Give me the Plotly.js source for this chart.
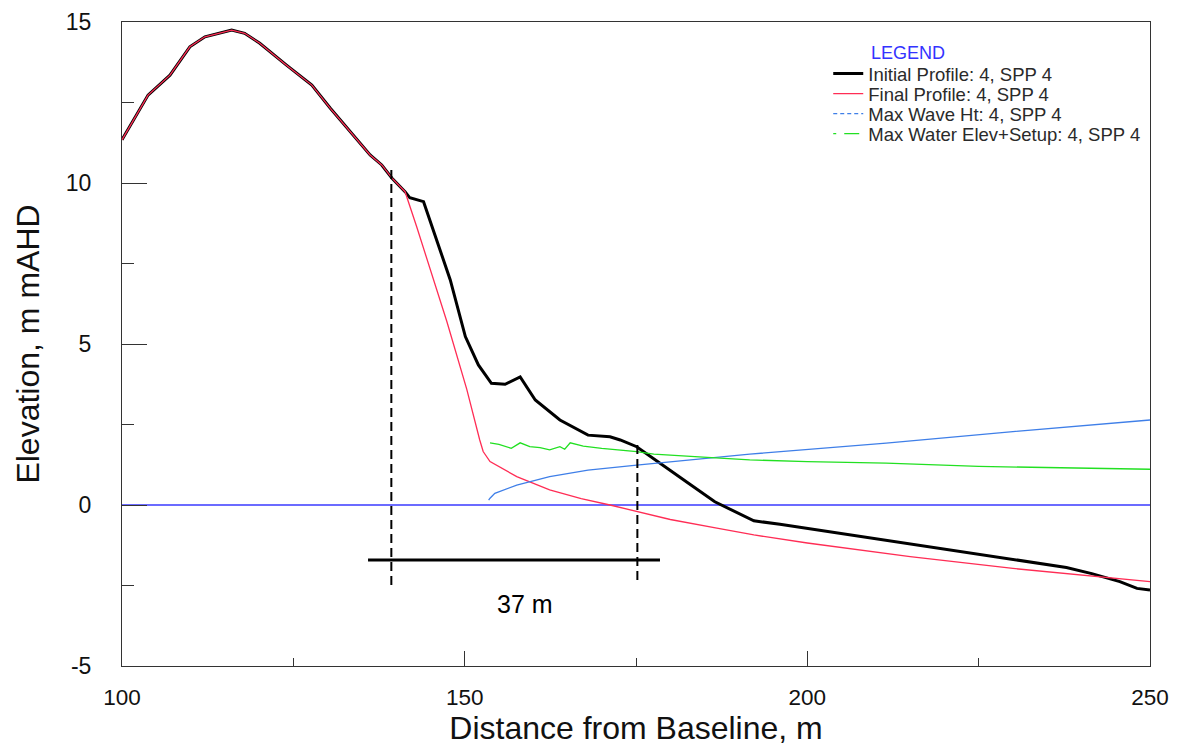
<!DOCTYPE html>
<html>
<head>
<meta charset="utf-8">
<script src="https://cdn.plot.ly/plotly-3.0.1.min.js"></script>
<style>
  html, body { margin: 0; padding: 0; background: #fff; }
  #chart { width: 1181px; height: 747px; }
</style>
</head>
<body>
<div id="chart"></div>
<script>
// ---- Data ----
const initialX = [100, 103.8, 107.0, 109.9, 112.1, 116.0, 117.9, 120.1, 124.0, 127.7, 130.4, 133.3, 136.2, 137.9, 139.4, 141.3, 142.0, 144.0, 145.9, 147.9, 150.1, 152.0, 153.9, 155.9, 158.1, 160.3, 163.9, 168.0, 171.2, 172.7, 175.1, 178.5, 182.5, 186.5, 192.2, 196.0, 210, 225, 237.8, 241.5, 245.6, 248.1, 250];
const initialY = [11.34, 12.73, 13.35, 14.23, 14.54, 14.75, 14.65, 14.34, 13.66, 13.04, 12.32, 11.59, 10.87, 10.56, 10.15, 9.73, 9.54, 9.42, 8.23, 6.99, 5.23, 4.35, 3.78, 3.75, 3.98, 3.26, 2.64, 2.17, 2.12, 2.02, 1.81, 1.29, 0.70, 0.10, -0.49, -0.60, -1.05, -1.53, -1.94, -2.13, -2.38, -2.59, -2.64];

const finalX = [100, 103.8, 107.0, 109.9, 112.1, 116.0, 117.9, 120.1, 124.0, 127.7, 130.4, 133.3, 136.2, 137.9, 139.4, 141.3, 143.0, 147.4, 150.3, 152.2, 152.7, 153.7, 157.6, 162.4, 167.0, 171.2, 175.1, 180.0, 186.8, 192.2, 200, 215, 230, 244.7, 250];
const finalY = [11.34, 12.73, 13.35, 14.23, 14.54, 14.75, 14.65, 14.34, 13.66, 13.04, 12.32, 11.59, 10.87, 10.56, 10.15, 9.73, 8.64, 5.7, 3.6, 2.02, 1.66, 1.35, 0.88, 0.47, 0.20, 0.00, -0.21, -0.45, -0.72, -0.93, -1.18, -1.60, -1.97, -2.28, -2.38];

const waveX = [153.5, 153.7, 154.4, 157.6, 162.4, 168.0, 175.1, 191.6, 211.5, 230, 250];
const waveY = [0.15, 0.21, 0.36, 0.62, 0.88, 1.08, 1.24, 1.58, 1.92, 2.28, 2.64];

const setupX = [153.7, 155.0, 156.8, 158.1, 159.5, 161.0, 162.4, 163.9, 164.6, 165.4, 167.3, 170.0, 175.1, 177.6, 185.4, 191.6, 200, 211.5, 225, 237, 250];
const setupY = [1.93, 1.88, 1.76, 1.93, 1.81, 1.78, 1.71, 1.81, 1.73, 1.93, 1.83, 1.76, 1.66, 1.58, 1.48, 1.40, 1.35, 1.30, 1.20, 1.15, 1.11];

const waterX = [100, 250];
const waterY = [0, 0];

// Annotation marks (retreat measurement)
const markerLineX = [139.3, 175.2];
const markerTopY = [10.4, 1.86];
const markerBottomY = [-2.64, -2.48];
const scaleBarX = [135.9, 178.5];
const scaleBarY = [-1.71, -1.71];
const scaleLabel = "37 m";
const scaleLabelPos = [158.8, -3.07];

const seriesNames = ["Initial Profile: 4, SPP 4", "Final Profile: 4, SPP 4", "Max Wave Ht: 4, SPP 4", "Max Water Elev+Setup: 4, SPP 4"];

const xTickVals = [100, 150, 200, 250];
const xTickText = ['100', '150', '200', '250'];
const yTickVals = [-5, 0, 5, 10, 15];
const yTickText = ['-5', '0', '5', '10', '15'];

const FONT = "Liberation Sans, Arial, sans-serif";

const traces = [
  {x: waterX, y: waterY, mode: 'lines', line: {color: '#6b6bff', width: 2}, showlegend: false, hoverinfo: 'skip'},
  {x: initialX, y: initialY, mode: 'lines', line: {color: '#000000', width: 3}, showlegend: false},
  {x: finalX, y: finalY, mode: 'lines', line: {color: '#ff2d55', width: 1.3}, showlegend: false},
  {x: waveX, y: waveY, mode: 'lines', line: {color: '#3f7fe8', width: 1.3}, showlegend: false},
  {x: setupX, y: setupY, mode: 'lines', line: {color: '#22e022', width: 1.3}, showlegend: false},
  // measurement marks
  {x: [markerLineX[0], markerLineX[0]], y: [markerTopY[0], markerBottomY[0]], mode: 'lines', line: {color: '#000', width: 2, dash: '9px,5px'}, showlegend: false},
  {x: [markerLineX[1], markerLineX[1]], y: [markerTopY[1], markerBottomY[1]], mode: 'lines', line: {color: '#000', width: 2, dash: '9px,5px'}, showlegend: false},
  {x: scaleBarX, y: scaleBarY, mode: 'lines', line: {color: '#000', width: 3}, showlegend: false},
  // legend-only entries (one legend each, for exact spacing)
  {x: [null], y: [null], mode: 'lines', name: seriesNames[0], legend: 'legend', line: {color: '#000', width: 3}},
  {x: [null], y: [null], mode: 'lines', name: seriesNames[1], legend: 'legend2', line: {color: '#ff2d55', width: 1.3}},
  {x: [null], y: [null], mode: 'lines', name: seriesNames[2], legend: 'legend3', line: {color: '#3f7fe8', width: 1.3, dash: '4px,3px'}},
  {x: [null], y: [null], mode: 'lines', name: seriesNames[3], legend: 'legend4', line: {color: '#22e022', width: 1.3, dash: '3px,8px,12px,0px'}}
];

function legendAt(yPaper) {
  return {
    x: 0.6870, y: yPaper, xanchor: 'left', yanchor: 'top',
    bgcolor: 'rgba(0,0,0,0)', borderwidth: 0,
    font: {family: FONT, size: 18.5, color: '#2a2a2a'}
  };
}

const layout = {
  width: 1181, height: 747,
  margin: {l: 122, r: 31, t: 22, b: 81},
  paper_bgcolor: '#fff', plot_bgcolor: '#fff',
  font: {family: FONT, color: '#111'},
  showlegend: true,
  legend: legendAt(0.9487),
  legend2: legendAt(0.9176),
  legend3: legendAt(0.8866),
  legend4: legendAt(0.8555),
  xaxis: {
    range: [100, 250], tickmode: 'array', tickvals: xTickVals, ticktext: xTickText,
    showgrid: false, zeroline: false,
    showline: true, linecolor: '#333', linewidth: 1, mirror: true,
    ticks: 'inside', ticklen: 15, tickcolor: '#333', tickwidth: 1,
    minor: {dtick: 25, tick0: 100, ticks: 'inside', ticklen: 8, tickcolor: '#333', tickwidth: 1, showgrid: false},
    tickfont: {family: FONT, size: 22.5, color: '#111'},
    ticklabelstandoff: 11,
    title: {text: 'Distance from Baseline, m', font: {family: FONT, size: 32, color: '#111'}, standoff: 6}
  },
  yaxis: {
    range: [-5, 15], tickmode: 'array', tickvals: yTickVals, ticktext: yTickText,
    showgrid: false, zeroline: false,
    showline: true, linecolor: '#333', linewidth: 1, mirror: true,
    ticks: 'inside', ticklen: 25, tickcolor: '#333', tickwidth: 1,
    minor: {dtick: 2.5, tick0: 0, ticks: 'inside', ticklen: 12, tickcolor: '#333', tickwidth: 1, showgrid: false},
    tickfont: {family: FONT, size: 23, color: '#111'},
    ticklabelstandoff: 25,
    title: {text: 'Elevation, m mAHD', font: {family: FONT, size: 32, color: '#111'}, standoff: 16}
  },
  annotations: [
    {x: scaleLabelPos[0], y: scaleLabelPos[1], xref: 'x', yref: 'y', text: scaleLabel, showarrow: false,
     font: {family: FONT, size: 25, color: '#000'}},
    {x: 0.7266, y: 0.952, xref: 'paper', yref: 'paper', xanchor: 'left', yanchor: 'middle', text: 'LEGEND', showarrow: false,
     font: {family: FONT, size: 18, color: '#3333ff'}}
  ]
};

Plotly.newPlot('chart', traces, layout, {staticPlot: true, displayModeBar: false});
</script>
</body>
</html>
